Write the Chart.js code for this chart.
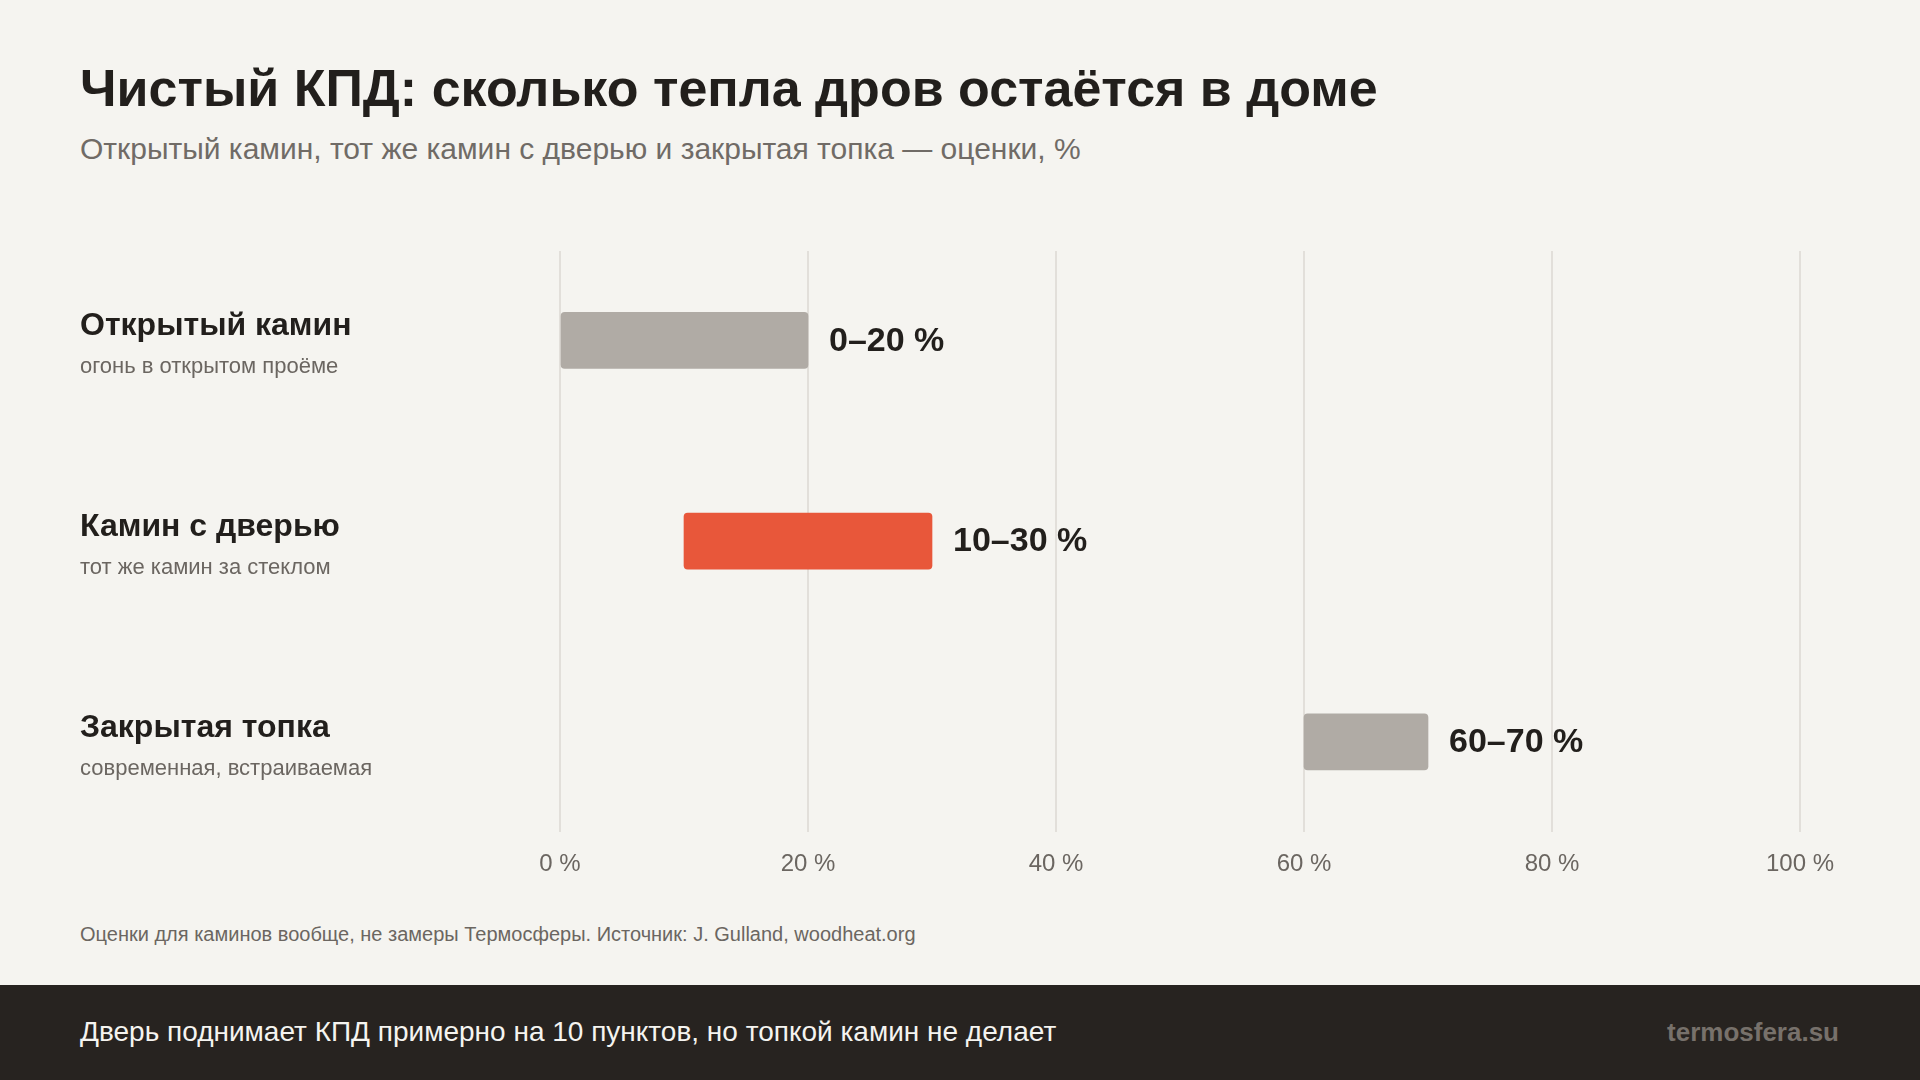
<!DOCTYPE html>
<html lang="ru">
<head>
<meta charset="UTF-8">
<title>Чистый КПД</title>
<script src="https://cdn.jsdelivr.net/npm/chart.js"></script>
<style>
  html, body { margin: 0; padding: 0; }
  body {
    width: 1920px; height: 1080px; position: relative; overflow: hidden;
    background: #f5f4f0; font-family: "Liberation Sans", Arial, sans-serif;
  }
  .title {
    position: absolute; left: 80px; top: 58px; margin: 0;
    font-size: 52px; font-weight: bold; color: #221f1c; line-height: 60px;
  }
  .subtitle {
    position: absolute; left: 80px; top: 132px; margin: 0;
    font-size: 30px; color: #706b66; line-height: 34px;
  }
  #wrap { position: absolute; left: 0; top: 200px; width: 1920px; height: 700px; }
  .note {
    position: absolute; left: 80px; top: 923px; margin: 0;
    font-size: 20px; color: #6b6661; line-height: 23px;
  }
  footer {
    position: absolute; left: 0; top: 985px; width: 1920px; height: 95px;
    background: #272320;
  }
  footer .left {
    position: absolute; left: 80px; top: 31px; font-size: 28px; color: #f5f4f0; line-height: 32px;
  }
  footer .right {
    position: absolute; right: 81px; top: 32px; font-size: 26px; font-weight: bold;
    color: #77716b; line-height: 30px;
  }
</style>
</head>
<body>
  <h1 class="title">Чистый КПД: сколько тепла дров остаётся в доме</h1>
  <p class="subtitle">Открытый камин, тот же камин с дверью и закрытая топка — оценки, %</p>

  <div id="wrap"><canvas id="chart" width="1920" height="700"></canvas></div>

  <p class="note">Оценки для каминов вообще, не замеры Термосферы. Источник: J. Gulland, woodheat.org</p>

  <footer>
    <span class="left">Дверь поднимает КПД примерно на 10 пунктов, но топкой камин не делает</span>
    <span class="right">termosfera.su</span>
  </footer>

<script>
  // данные
  const categories = ['Открытый камин', 'Камин с дверью', 'Закрытая топка'];
  const subLabels = ['огонь в открытом проёме', 'тот же камин за стеклом', 'современная, встраиваемая'];
  const lowValues = [0, 10, 60];
  const highValues = [20, 30, 70];
  const barColors = ['#b0aba5', '#e8573a', '#b0aba5'];
  const tickValues = [0, 20, 40, 60, 80, 100];

  const FONT = '"Liberation Sans", Arial, sans-serif';

  // подписи слева и значения справа от полос
  const labelsPlugin = {
    id: 'labelsPlugin',
    afterDatasetsDraw(chart) {
      const ctx = chart.ctx;
      const y = chart.scales.y;
      const meta = chart.getDatasetMeta(0);
      ctx.save();
      categories.forEach((name, i) => {
        const cy = y.getPixelForValue(i);
        ctx.textAlign = 'left';
        ctx.textBaseline = 'alphabetic';
        ctx.fillStyle = '#221f1c';
        ctx.font = 'bold 32px ' + FONT;
        ctx.fillText(name, 80, cy - 5);
        ctx.fillStyle = '#6b6661';
        ctx.font = '22px ' + FONT;
        ctx.fillText(subLabels[i], 80, cy + 33);

        const bar = meta.data[i];
        ctx.fillStyle = '#221f1c';
        ctx.font = 'bold 34px ' + FONT;
        ctx.textBaseline = 'middle';
        ctx.fillText(lowValues[i] + '–' + highValues[i] + ' %', bar.x + 21, cy + 1);
      });
      ctx.restore();
    }
  };

  new Chart(document.getElementById('chart'), {
    type: 'bar',
    data: {
      datasets: [{
        data: categories.map((c, i) => ({ x: [lowValues[i], highValues[i]], y: i })),
        backgroundColor: barColors,
        borderRadius: 4,
        borderSkipped: false,
        barThickness: 56
      }]
    },
    options: {
      indexAxis: 'y',
      responsive: false,
      animation: false,
      layout: { padding: { left: 560, right: 120, top: 51, bottom: 3 } },
      plugins: { legend: { display: false }, tooltip: { enabled: false } },
      scales: {
        y: {
          type: 'linear',
          display: false,
          offset: false,
          reverse: true,
          min: -0.445,
          max: 2.45
        },
        x: {
          min: 0, max: 100,
          afterBuildTicks(scale) { scale.ticks = tickValues.map(v => ({ value: v })); },
          grid: { color: '#e2dfda', lineWidth: 2, drawTicks: false },
          border: { display: false },
          ticks: {
            padding: 18,
            color: '#6b6661',
            font: { family: FONT, size: 24 },
            callback: v => v + ' %'
          }
        }
      }
    },
    plugins: [labelsPlugin]
  });
</script>
</body>
</html>
